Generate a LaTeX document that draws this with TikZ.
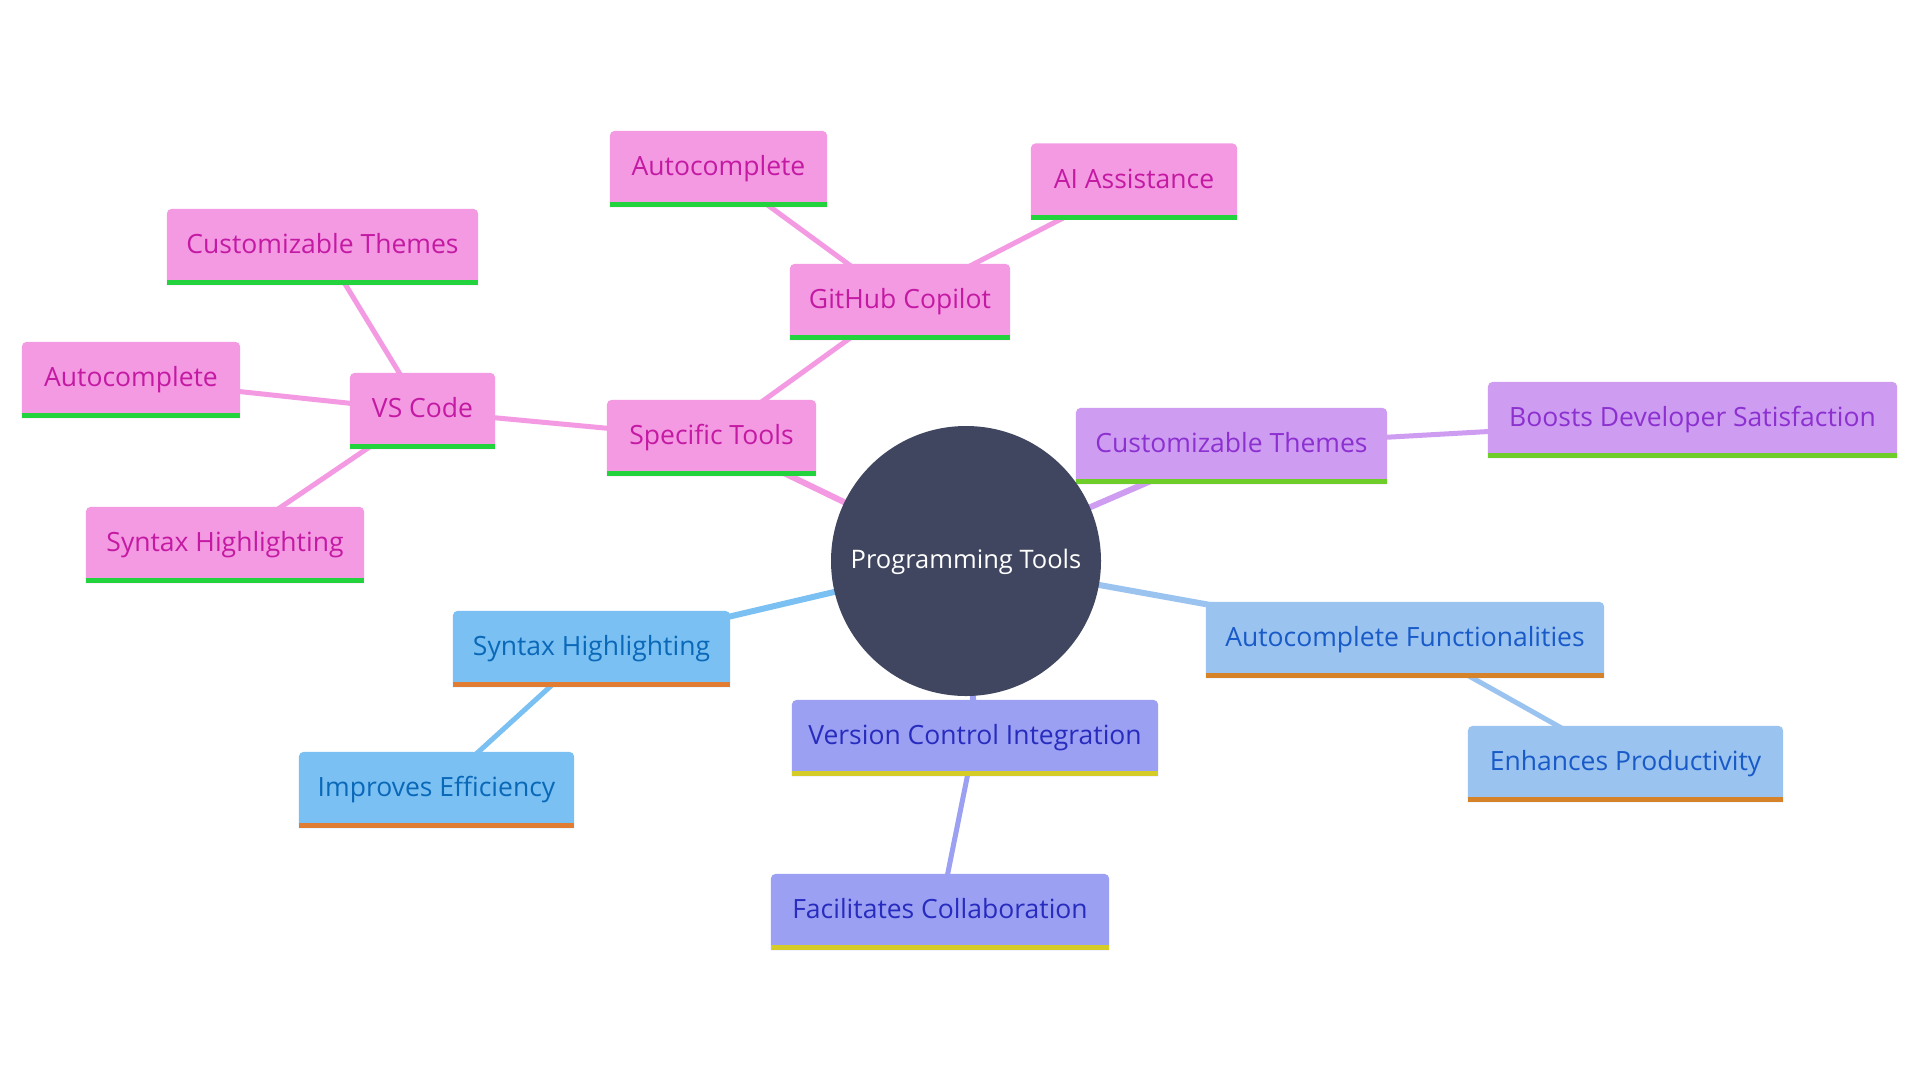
\documentclass[tikz,border=0pt]{standalone}
\usepackage{fontspec}
\setmainfont{Open Sans}
\usetikzlibrary{calc}
\pgfdeclarelayer{bg}
\pgfdeclarelayer{edges}
\pgfdeclarelayer{boxes}
\pgfsetlayers{bg,edges,boxes,main}
\definecolor{pinkF}{HTML}{F39AE3}
\definecolor{pinkT}{HTML}{C41AA3}
\definecolor{pinkS}{HTML}{22D33E}
\definecolor{purpF}{HTML}{CE9DF2}
\definecolor{purpT}{HTML}{8C30D0}
\definecolor{purpS}{HTML}{6ECD28}
\definecolor{blueF}{HTML}{7AC0F2}
\definecolor{blueT}{HTML}{0A68B8}
\definecolor{blueS}{HTML}{E07D32}
\definecolor{bltwF}{HTML}{9BC3F0}
\definecolor{bltwT}{HTML}{185AC8}
\definecolor{bltwS}{HTML}{D68228}
\definecolor{periF}{HTML}{9BA0F2}
\definecolor{periT}{HTML}{282CBE}
\definecolor{periS}{HTML}{D6CC28}
\definecolor{rootF}{HTML}{404660}
\tikzset{
  mm/.style={rectangle, inner sep=0pt, minimum height=76pt, text height=19pt, text depth=6pt, font=\fontsize{26.5}{31}\selectfont},
  pinkbox/.style={mm, text=pinkT},
  purpbox/.style={mm, text=purpT},
  bluebox/.style={mm, text=blueT},
  bltwbox/.style={mm, text=bltwT},
  peribox/.style={mm, text=periT},
  rootnode/.style={circle, fill=rootF, minimum size=270pt, inner sep=0pt, text height=20pt, text depth=5.4pt, text=white, font=\fontsize{25.5}{30}\selectfont},
  edgeA/.style={line width=6pt},
  edgeB/.style={line width=5pt},
}
\begin{document}
\begin{tikzpicture}[x=1pt,y=-1pt]
\useasboundingbox (0,0) rectangle (1920,1080);
\begin{pgfonlayer}{bg}
\fill[white] (0,0) rectangle (1920,1080);
\end{pgfonlayer}

\node[rootnode] (root) at (966,561) {Programming Tools};

\node[pinkbox, minimum width=209pt] (spt) at (711.5,438) {Specific Tools};
\node[pinkbox, minimum width=145pt] (vsc) at (422.5,411) {VS Code};
\node[pinkbox, minimum width=311pt] (vct) at (322.5,247) {Customizable Themes};
\node[pinkbox, minimum width=218pt] (vsa) at (131,380) {Autocomplete};
\node[pinkbox, minimum width=278pt] (vsh) at (225,545) {Syntax Highlighting};
\node[pinkbox, minimum width=220pt] (ghc) at (900,302) {GitHub Copilot};
\node[pinkbox, minimum width=217pt] (gha) at (718.5,169) {Autocomplete};
\node[pinkbox, minimum width=206pt] (ai) at (1134,181.5) {AI Assistance};

\node[purpbox, minimum width=311pt] (cth) at (1231.5,446) {Customizable Themes};
\node[purpbox, minimum width=409pt] (bds) at (1692.5,420) {Boosts Developer Satisfaction};

\node[bluebox, minimum width=277pt] (syh) at (591.5,649) {Syntax Highlighting};
\node[bluebox, minimum width=275pt] (ime) at (436.5,790) {Improves Efficiency};

\node[peribox, minimum width=366pt] (vci) at (975,738) {Version Control Integration};
\node[peribox, minimum width=338pt] (fac) at (940,912) {Facilitates Collaboration};

\node[bltwbox, minimum width=398pt] (acf) at (1405,640) {Autocomplete Functionalities};
\node[bltwbox, minimum width=315pt] (enp) at (1625.5,764) {Enhances Productivity};

\begin{pgfonlayer}{boxes}
\foreach \nn/\ff/\ss in {spt/pinkF/pinkS, vsc/pinkF/pinkS, vct/pinkF/pinkS, vsa/pinkF/pinkS, vsh/pinkF/pinkS, ghc/pinkF/pinkS, gha/pinkF/pinkS, ai/pinkF/pinkS, cth/purpF/purpS, bds/purpF/purpS, syh/blueF/blueS, ime/blueF/blueS, vci/periF/periS, fac/periF/periS, acf/bltwF/bltwS, enp/bltwF/bltwS}{
  \fill[\ff] (\nn.south west) [rounded corners=5pt] -- (\nn.north west) -- (\nn.north east) [sharp corners] -- (\nn.south east) -- cycle;
  \fill[\ss] (\nn.south west) rectangle ($(\nn.south east)+(0,-5)$);
}
\end{pgfonlayer}

\begin{pgfonlayer}{edges}
\draw[edgeA, pinkF] (root.center) -- (spt.center);
\draw[edgeB, pinkF] (spt.center) -- (vsc.center);
\draw[edgeB, pinkF] (spt.center) -- (ghc.center);
\draw[edgeB, pinkF] (vsc.center) -- (vct.center);
\draw[edgeB, pinkF] (vsc.center) -- (vsa.center);
\draw[edgeB, pinkF] (vsc.center) -- (vsh.center);
\draw[edgeB, pinkF] (ghc.center) -- (gha.center);
\draw[edgeB, pinkF] (ghc.center) -- (ai.center);
\draw[edgeA, purpF] (root.center) -- (cth.center);
\draw[edgeB, purpF] (cth.center) -- (bds.center);
\draw[edgeA, blueF] (root.center) -- (syh.center);
\draw[edgeB, blueF] (syh.center) -- (ime.center);
\draw[edgeA, periF] (root.center) -- (vci.center);
\draw[edgeB, periF] (vci.center) -- (fac.center);
\draw[edgeA, bltwF] (root.center) -- (acf.center);
\draw[edgeB, bltwF] (acf.center) -- (enp.center);
\end{pgfonlayer}
\end{tikzpicture}
\end{document}
